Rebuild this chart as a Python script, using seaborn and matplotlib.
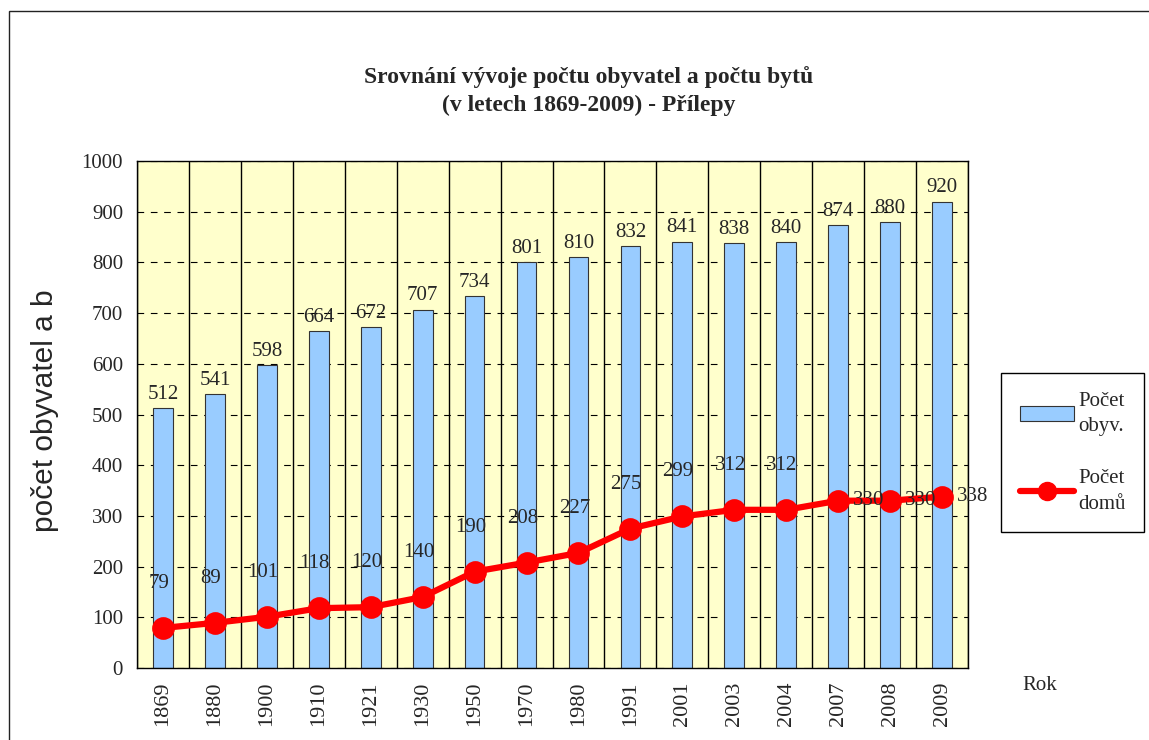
import matplotlib
matplotlib.use("Agg")
import matplotlib.pyplot as plt
from matplotlib.patches import Patch, Rectangle
from matplotlib.lines import Line2D
import numpy as np
import pandas as pd
import seaborn as sns

# data
years = ["1869", "1880", "1900", "1910", "1921", "1930", "1950", "1970",
         "1980", "1991", "2001", "2003", "2004", "2007", "2008", "2009"]
pocet_obyv = [512, 541, 598, 664, 672, 707, 734, 801, 810, 832, 841, 838, 840, 874, 880, 920]
pocet_domu = [79, 89, 101, 118, 120, 140, 190, 208, 227, 275, 299, 312, 312, 330, 330, 338]

sns.set_style("white")
plt.rcParams["font.family"] = ["Liberation Serif", "DejaVu Serif"]

df = pd.DataFrame({"Rok": years, "obyv": pocet_obyv, "domu": pocet_domu})

W, H = 1149, 740
fig = plt.figure(figsize=(W / 100, H / 100), dpi=100)
ax = fig.add_axes([137 / W, 72 / H, 831 / W, 507 / H])
ax.set_facecolor("#FFFFCC")
ax.set_axisbelow(True)

sns.barplot(data=df, x="Rok", y="obyv", color="#99CCFF", saturation=1, width=0.38,
            edgecolor="#333333", linewidth=0.8, ax=ax, zorder=2)
sns.pointplot(data=df, x="Rok", y="domu", color="red", markers="o", markersize=13,
              linewidth=4.5, errorbar=None, ax=ax)

ax.bar_label(ax.containers[0], padding=3, fontsize=15)

# labels of the line, right of the last three points
for i, v in enumerate(pocet_domu):
    if i >= 13:
        ax.annotate(str(v), (i, v), xytext=(11, 0), textcoords="offset points",
                    ha="left", va="center", fontsize=15, zorder=5)
    else:
        ax.annotate(str(v), (i, v), xytext=(-3, 32), textcoords="offset points",
                    ha="center", va="center", fontsize=15, zorder=5)

ax.set_xlim(-0.5, len(years) - 0.5)
ax.set_ylim(0, 1000)
ax.set_yticks(range(0, 1001, 100))
ax.set_xticks(range(len(years)))
ax.set_xticklabels(years, rotation=90)
ax.set_xticks(np.arange(-0.5, len(years), 1), minor=True)
ax.tick_params(axis="x", which="major", length=0, pad=10, labelsize=16)
ax.tick_params(axis="x", which="minor", length=6, width=1, color="black", direction="out")
ax.tick_params(axis="y", length=5, width=1, color="black", direction="out", pad=5, labelsize=15)
ax.xaxis.grid(True, which="minor", color="black", lw=1)
ax.yaxis.grid(True, which="major", color="black", lw=0.8, ls=(0, (6, 6)))
ax.set_xlabel("")
ax.set_ylabel("")
for s in ax.spines.values():
    s.set_color("black")
    s.set_linewidth(1)

fig.text(589 / W, 1 - 91 / H, "Srovnání vývoje počtu obyvatel a počtu bytů\n(v letech 1869-2009) - Přílepy",
         ha="center", va="center", fontsize=17, fontweight="bold", linespacing=1.4)
fig.text(45 / W, 1 - 411 / H, "počet obyvatel a b", rotation=90, ha="center", va="center",
         fontsize=21.5, family=["Liberation Sans", "DejaVu Sans"])
fig.text(1040 / W, 1 - 686 / H, "Rok", ha="center", va="center", fontsize=15)

handles = [Patch(facecolor="#99CCFF", edgecolor="#333333", lw=0.8),
           Line2D([], [], color="red", lw=4.5, marker="o", markersize=13)]
leg = fig.legend(handles, ["Počet\nobyv.", "Počet\ndomů"], loc="upper left",
                 bbox_to_anchor=(1001 / W, 1 - 373 / H), fontsize=15, frameon=True,
                 fancybox=False, edgecolor="black", framealpha=1, handlelength=2.6,
                 handletextpad=0.2, labelspacing=1.6, borderpad=0.9, borderaxespad=0)
leg.get_frame().set_linewidth(1)
for t in leg.get_texts():
    t.set_linespacing(1.45)

fig.add_artist(Rectangle((9 / W, -0.1), 1.2, 1.1 - 11 / H, transform=fig.transFigure,
                         fill=False, edgecolor="#222222", lw=1))

fig.savefig("out.png", dpi=100)
